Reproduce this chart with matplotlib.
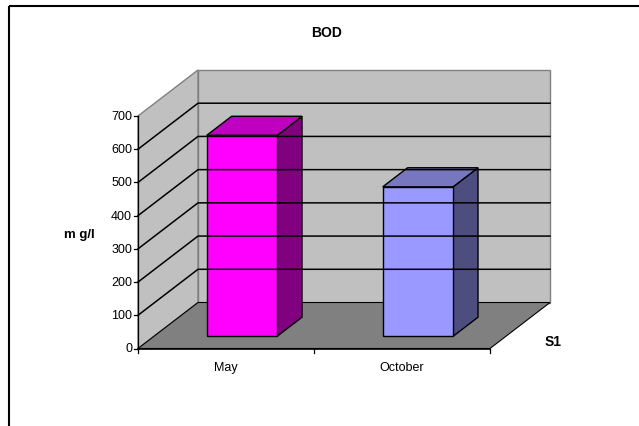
import matplotlib
matplotlib.use("Agg")
import matplotlib.pyplot as plt
from matplotlib.patches import Polygon

plt.rcParams["font.family"] = ["Liberation Sans", "DejaVu Sans"]

# BOD readings, one series (S1)
months = ["May", "October"]
bod = [605, 450]
series_name = "S1"
y_ticks = [0, 100, 200, 300, 400, 500, 600, 700]
y_label = "m g/l"
title = "BOD"

front_colors = ["#FF00FF", "#9999FF"]
top_colors = ["#C000C0", "#7777C0"]
side_colors = ["#800080", "#4D4D80"]

# pseudo-3D frame (pixels)
X0, Y0 = 138, 349.5        # front-left origin of the floor
SLOT = 176                 # width of one category
SCALE = 232.5 / 700        # pixels per mg/l
DX, DY = 60, -46           # full depth offset
VMAX = y_ticks[-1]


def proj(u, v, d):
    """category position u, value v, depth fraction d -> pixel x, y"""
    return X0 + u * SLOT + d * DX, Y0 - v * SCALE + d * DY


fig = plt.figure(figsize=(6.39, 4.27), dpi=100)
ax = fig.add_axes([0, 0, 1, 1])
ax.set_xlim(0, 639)
ax.set_ylim(427, 0)
ax.axis("off")

n = len(months)
wall_edge = "#808080"

# back wall
back = [proj(0, 0, 1), proj(n, 0, 1), proj(n, VMAX, 1), proj(0, VMAX, 1)]
ax.add_patch(Polygon(back, closed=True, facecolor="#C0C0C0", edgecolor=wall_edge, lw=1))
# side wall
side = [proj(0, 0, 0), proj(0, 0, 1), proj(0, VMAX, 1), proj(0, VMAX, 0)]
ax.add_patch(Polygon(side, closed=True, facecolor="#C0C0C0", edgecolor=wall_edge, lw=1))
# floor
floor = [proj(0, 0, 0), proj(n, 0, 0), proj(n, 0, 1), proj(0, 0, 1)]
ax.add_patch(Polygon(floor, closed=True, facecolor="#808080", edgecolor="black", lw=0.8))

# gridlines on the walls
for v in y_ticks[1:-1]:
    xa, ya = proj(0, v, 0)
    xb, yb = proj(0, v, 1)
    xc, yc = proj(n, v, 1)
    ax.plot([xa, xb, xc], [ya, yb, yc], color="black", lw=1.1)

# value axis with ticks and labels
xa, ya = proj(0, 0, 0)
xb, yb = proj(0, VMAX, 0)
ax.plot([xa, xb], [ya, yb], color="black", lw=0.9)
for v in y_ticks:
    x, y = proj(0, v, 0)
    ax.plot([x - 4, x], [y, y], color="black", lw=0.9)
    ax.text(x - 6, y, str(v), ha="right", va="center", fontsize=9)

# category axis
xa, ya = proj(0, 0, 0)
xb, yb = proj(n, 0, 0)
ax.plot([xa, xb], [ya, yb], color="black", lw=1.2)
for i in range(n + 1):
    x, y = proj(i, 0, 0)
    ax.plot([x, x], [y, y + 4], color="black", lw=0.9)
for i, m in enumerate(months):
    x, y = proj(i + 0.5, 0, 0)
    ax.text(x, y + 19, m, ha="center", va="center", fontsize=9)

# bars
u_pad, d0, d1 = 0.3, 0.265, 0.68
for i, v in enumerate(bod):
    ul, ur = i + u_pad, i + 1 - u_pad
    front = [proj(ul, 0, d0), proj(ur, 0, d0), proj(ur, v, d0), proj(ul, v, d0)]
    top = [proj(ul, v, d0), proj(ur, v, d0), proj(ur, v, d1), proj(ul, v, d1)]
    right = [proj(ur, 0, d0), proj(ur, 0, d1), proj(ur, v, d1), proj(ur, v, d0)]
    for poly, c in ((right, side_colors[i]), (top, top_colors[i]), (front, front_colors[i])):
        ax.add_patch(Polygon(poly, closed=True, facecolor=c, edgecolor="black",
                             lw=1.0, joinstyle="miter"))

# titles
ax.text(327, 33, title, ha="center", va="center", fontsize=10, fontweight="bold")
ax.text(79, 235, y_label, ha="center", va="center", fontsize=9.5, fontweight="bold")
ax.text(553, 342, series_name, ha="center", va="center", fontsize=10, fontweight="bold")

# chart area border (runs off the right and bottom)
ax.plot([8.5, 8.5], [427, 6.5], color="black", lw=1.5, solid_capstyle="butt")
ax.plot([8.5, 639], [6.5, 6.5], color="black", lw=1.5, solid_capstyle="butt")

fig.savefig("out.png", dpi=100)
